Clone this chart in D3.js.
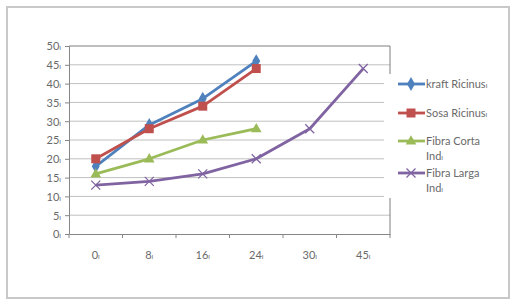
<!DOCTYPE html>
<html><head><meta charset="utf-8">
<script src="https://cdn.jsdelivr.net/npm/d3@7"></script>
<style>body{margin:0;background:#fff}svg{display:block}</style>
</head><body>
<script>
const categories = ["0","8","16","24","30","45"];
const yTicks = [0,5,10,15,20,25,30,35,40,45,50];
const kraft = [18,29,36,46];
const sosa = [20,28,34,44];
const corta = [16,20,25,28];
const larga = [13,14,16,20,28,44];
const seriesNames = [["kraft Ricinus"],["Sosa Ricinus"],["Fibra Corta","Ind"],["Fibra Larga","Ind"]];

const W=521,H=305;
const svg=d3.select("body").append("svg").attr("width",W).attr("height",H);
const font="Lato, 'DejaVu Sans', sans-serif";
const txt="#6a6a6a";

svg.append("rect").attr("x",7).attr("y",7).attr("width",502).attr("height",291)
  .attr("fill","#fff").attr("stroke","#c8c8c8").attr("stroke-width",2);

const L=69,R=390,T=46,B=234;
const x=d3.scaleBand().domain(categories).range([L,R]);
const y=d3.scaleLinear().domain([0,50]).range([B,T]);

svg.append("g").selectAll("line").data(yTicks.filter(d=>d>0&&d<50)).join("line")
  .attr("x1",L).attr("x2",R).attr("y1",d=>y(d)).attr("y2",d=>y(d))
  .attr("stroke","#c0c0c0").attr("stroke-width",1);
svg.append("line").attr("x1",L).attr("x2",R).attr("y1",y(50)).attr("y2",y(50)).attr("stroke","#7f7f7f");
svg.append("line").attr("x1",R).attr("x2",R).attr("y1",T).attr("y2",B).attr("stroke","#7f7f7f");

const yAxis=svg.append("g").attr("transform",`translate(${L},0)`)
  .call(d3.axisLeft(y).tickValues(yTicks).tickSize(4).tickFormat(""));
yAxis.select(".domain").attr("stroke","#868686");
yAxis.selectAll(".tick line").attr("stroke","#868686");
yAxis.selectAll(".tick").append("text").attr("x",-8).attr("dy","0.35em").attr("text-anchor","end")
  .attr("fill",txt).style("font-family",font).style("font-size","11px")
  .each(function(d){const t=d3.select(this);t.append("tspan").text(d);t.append("tspan").style("font-size","7px").text("ı");});

const xAxis=svg.append("g").attr("transform",`translate(0,${B})`)
  .call(d3.axisBottom(x).tickSize(0).tickFormat(""));
xAxis.select(".domain").attr("stroke","#868686");
xAxis.selectAll(".tick").remove();
const bounds=categories.map(c=>x(c)).concat([R]);
xAxis.selectAll("line.tk").data(bounds).join("line").attr("class","tk")
  .attr("x1",d=>d).attr("x2",d=>d).attr("y1",0).attr("y2",4).attr("stroke","#868686");
svg.append("g").selectAll("text").data(categories).join("text")
  .attr("x",d=>x(d)+x.bandwidth()/2).attr("y",B+25).attr("text-anchor","middle")
  .attr("fill",txt).style("font-family",font).style("font-size","11px")
  .each(function(d){const t=d3.select(this);t.append("tspan").text(d);t.append("tspan").style("font-size","7px").text("ı");});

const cx=c=>x(c)+x.bandwidth()/2;
const colors=["#4F81BD","#C0504D","#9BBB59","#8064A2"];
const data=[kraft,sosa,corta,larga];
const line=d3.line().x((d,i)=>cx(categories[i])).y(d=>y(d));

function marker(g,k,px,py){
  const c=colors[k];
  if(k===0) g.append("path").attr("d",d3.symbol(d3.symbolDiamond,55)()).attr("transform",`translate(${px},${py})`).attr("fill",c);
  else if(k===1) g.append("rect").attr("x",px-4.5).attr("y",py-4.5).attr("width",9).attr("height",9).attr("fill",c);
  else if(k===2) g.append("path").attr("d",d3.symbol(d3.symbolTriangle,50)()).attr("transform",`translate(${px},${py+0.5})`).attr("fill",c);
  else g.append("path").attr("d",`M${px-4.5},${py-4.5}L${px+4.5},${py+4.5}M${px-4.5},${py+4.5}L${px+4.5},${py-4.5}`).attr("stroke",c).attr("stroke-width",1.3);
}

data.forEach((s,k)=>{
  const g=svg.append("g");
  g.append("path").datum(s).attr("d",line).attr("fill","none").attr("stroke",colors[k]).attr("stroke-width",2.8).attr("stroke-linejoin","round");
  s.forEach((v,i)=>marker(g,k,cx(categories[i]),y(v)));
});

svg.append("rect").attr("x",384).attr("y",74).attr("width",80).attr("height",124).attr("fill","#fff");
const legY=[84,113,141,173];
seriesNames.forEach((nm,k)=>{
  const g=svg.append("g");
  g.append("line").attr("x1",398).attr("x2",425).attr("y1",legY[k]).attr("y2",legY[k]).attr("stroke",colors[k]).attr("stroke-width",2.8);
  marker(g,k,411,legY[k]);
  nm.forEach((ln,j)=>{
    const t=g.append("text").attr("x",426).attr("y",legY[k]+4+j*15).attr("fill",txt)
      .style("font-family",font).style("font-size","11px");
    t.append("tspan").text(ln);
    if(j===nm.length-1) t.append("tspan").style("font-size","7px").text("ı");
  });
});
</script>
</body></html>
